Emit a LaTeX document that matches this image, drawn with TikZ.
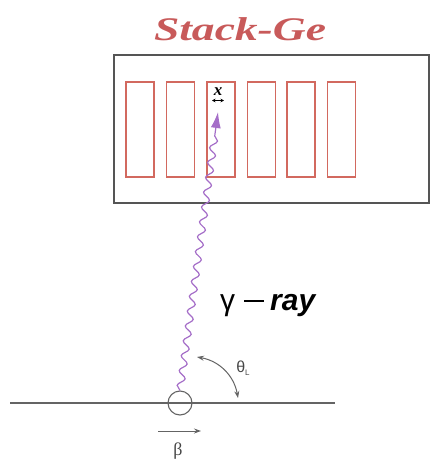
\documentclass[tikz,border=0pt]{standalone}
\usepackage{fontspec}
\setmainfont{Liberation Serif}
\newfontfamily\sansf{Liberation Sans}
\usetikzlibrary{decorations.pathmorphing,arrows.meta}
\definecolor{boxgray}{RGB}{85,85,85}
\definecolor{detred}{RGB}{210,105,95}
\definecolor{wavepurple}{RGB}{165,110,200}
\definecolor{titlered}{RGB}{200,90,90}
\definecolor{linegray}{RGB}{100,100,100}
\tikzset{
  detector/.style={draw=detred, line width=1.1pt, minimum width=28pt, minimum height=95pt, inner sep=0pt},
  outerbox/.style={draw=boxgray, line width=1.4pt, inner sep=0pt},
  gammaray/.style={draw=wavepurple, line width=1.2pt, decorate,
     decoration={snake, amplitude=3.5pt, segment length=15pt, post length=17pt},
     -{Latex[length=16pt,width=10pt,fill=wavepurple]}},
  thinarrow/.style={draw=linegray, line width=1pt, -{Stealth[length=7pt,width=5pt]}},
}
\begin{document}
\begin{tikzpicture}[x=1pt,y=-1pt]
\useasboundingbox (0,0) rectangle (431,461);
% title
\node[font=\bfseries\itshape\fontsize{33}{33}\selectfont, text=titlered] (title) at (240,29) {\scalebox{1.38}[1]{Stack-Ge}};
% outer box
\node[outerbox, minimum width=315pt, minimum height=148pt] (box) at (271.5,129) {};
% detectors
\node[detector] (d1) at (140,129.5) {};
\node[detector] (d2) at (180.5,129.5) {};
\node[detector] (d3) at (221,129.5) {};
\node[detector] (d4) at (261.5,129.5) {};
\node[detector] (d5) at (301,129.5) {};
\node[detector] (d6) at (341.5,129.5) {};
% x label
\node[font=\bfseries\itshape\fontsize{17}{17}\selectfont, inner sep=0pt] (xlab) at (218,92) {x};
\coordinate (xa) at (212,100.5);
\coordinate (xb) at (224,100.5);
\draw[line width=0.9pt, {Stealth[length=3.5pt,width=3.5pt]}-{Stealth[length=3.5pt,width=3.5pt]}] (xa) -- (xb);
% beam line and circle
\coordinate (lineL) at (10,403);
\coordinate (lineR) at (335,403);
\draw[linegray, line width=1.3pt] (lineL) -- (lineR);
\node[draw=linegray, line width=1.1pt, circle, minimum size=24pt, inner sep=0pt] (c) at (180,403) {};
% gamma ray
\coordinate (tip) at (218,112);
\draw[gammaray] (c.north) -- (tip);
\node[font=\sansf\fontsize{30}{30}\selectfont, anchor=base west, inner sep=0pt] (glab) at (220,310) {γ\hspace{9pt}\rule[8.5pt]{20pt}{2pt}\hspace{6pt}\textbf{\itshape ray}};
% angle
\coordinate (a1) at (197,357);
\coordinate (a2) at (238,398);
\draw[linegray, line width=1pt, {Stealth[length=7pt,width=5pt]}-{Stealth[length=7pt,width=5pt]}] (a1) to[bend left=35] (a2);
\node[font=\sansf\fontsize{16}{16}\selectfont, text=linegray!70!black] (thlab) at (243,368) {θ\raisebox{-3pt}{\fontsize{8}{8}\selectfont L}};
% beta
\coordinate (b1) at (158,431);
\coordinate (b2) at (201,431);
\draw[thinarrow] (b1) -- (b2);
\node[font=\fontsize{18}{18}\selectfont, text=linegray!70!black] (beta) at (178,451) {β};
\end{tikzpicture}
\end{document}
